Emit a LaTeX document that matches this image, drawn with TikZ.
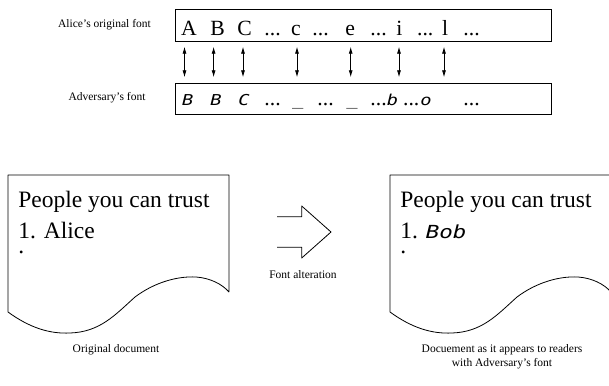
\documentclass[tikz,border=0pt]{standalone}
\usepackage{fontspec}
\setmainfont{Liberation Serif}
\newfontfamily\advfont[FakeStretch=1.25]{DejaVu Sans Mono}
\usetikzlibrary{arrows.meta}
\newcommand\gapdots{...}

\begin{document}
\begin{tikzpicture}[x=1pt,y=-1pt,line width=0.8pt,
  glyph/.style={inner sep=0,anchor=base west,font=\fontsize{21.7}{24}\selectfont},
  advglyph/.style={inner sep=0,anchor=base west,font=\fontsize{15}{18}\advfont\itshape},
  caption/.style={inner sep=0,font=\fontsize{11.5}{13.5}\selectfont,align=center},
  doctext/.style={inner sep=0,anchor=base west,font=\fontsize{23.5}{26}\selectfont},
  fontbox/.style={draw,inner sep=0,anchor=north west,minimum width=376pt,minimum height=31.4pt},
  maparrow/.style={{Latex[length=7pt,width=4pt]}-{Latex[length=7pt,width=4pt]},line width=0.8pt},
  docedge/.style={line width=0.8pt,line join=round}]
\useasboundingbox (0,0) rectangle (609,385);

% the two glyph tables
\node[caption] (lblA) at (104.5,25) {Alice’s original font};
\node[caption] (lblB) at (107,98) {Adversary’s font};
\node[fontbox] (alicebox) at (175,9.3) {};
\node[fontbox] (advbox) at (175,82.7) {};

% Alice's glyphs
\foreach \x/\t [count=\i] in {180.7/A,210/B,237/C,264/\gapdots,290.7/c,312/\gapdots,345/e,370/\gapdots,396/i,416.7/\gapdots,441.7/l,463/\gapdots}
  \node[glyph] (a\i) at (\x,36) {\t};

% the adversary's glyphs
\foreach \x/\t [count=\i] in {181.7/B,210/B,238/C,291.7/\_,346/\_,386.5/b,420/o}
  \node[advglyph] (g\i) at (\x,106) {\t};
\foreach \x [count=\i] in {264,317,370,402.7,463}
  \node[glyph] (d\i) at (\x,106) {\gapdots};

% glyph correspondences
\foreach \x [count=\i] in {184.5,213.6,243,297,350.7,399,444} {
  \coordinate (u\i) at (\x,46.7);
  \coordinate (l\i) at (\x,77.3);
  \draw[maparrow] (u\i) -- (l\i);
}

% original document
\draw[docedge] (229,292) -- (229,175) -- (8,175) -- (8,312)
  .. controls (30,328) and (50,334) .. (70,333)
  .. controls (100,332) and (115,315) .. (135,297)
  .. controls (155,282) and (178,276) .. (196,277)
  .. controls (210,278) and (222,284) .. (229,292);
\node[doctext] (t1) at (18,207) {People you can trust};
\node[doctext] (t2) at (18,238) {1. Alice};
\node[doctext] (t3) at (18,253.5) {.};
\node[caption] (cap1) at (116,350) {Original document};

% block arrow
\draw[docedge] (277,216.7) -- (301.7,216.7) -- (301.7,206) -- (331,232)
  -- (301.7,258) -- (301.7,247.3) -- (277,247.3);
\node[caption] (alt) at (303,275) {Font alteration};

% document as rendered with the adversary's font
\begin{scope}[xshift=382]
\draw[docedge] (229,292) -- (229,175) -- (8,175) -- (8,312)
  .. controls (30,328) and (50,334) .. (70,333)
  .. controls (100,332) and (115,315) .. (135,297)
  .. controls (155,282) and (178,276) .. (196,277)
  .. controls (210,278) and (222,284) .. (229,292);
\end{scope}
\node[doctext] (s1) at (400,207) {People you can trust};
\node[doctext] (s2) at (400,238) {1. {\fontsize{18}{20}\advfont\itshape Bob}};
\node[doctext] (s3) at (400,253.5) {.};
\node[caption] (cap2) at (502,356.5) {Docuement as it appears to readers\\with Adversary’s font};
\end{tikzpicture}
\end{document}
